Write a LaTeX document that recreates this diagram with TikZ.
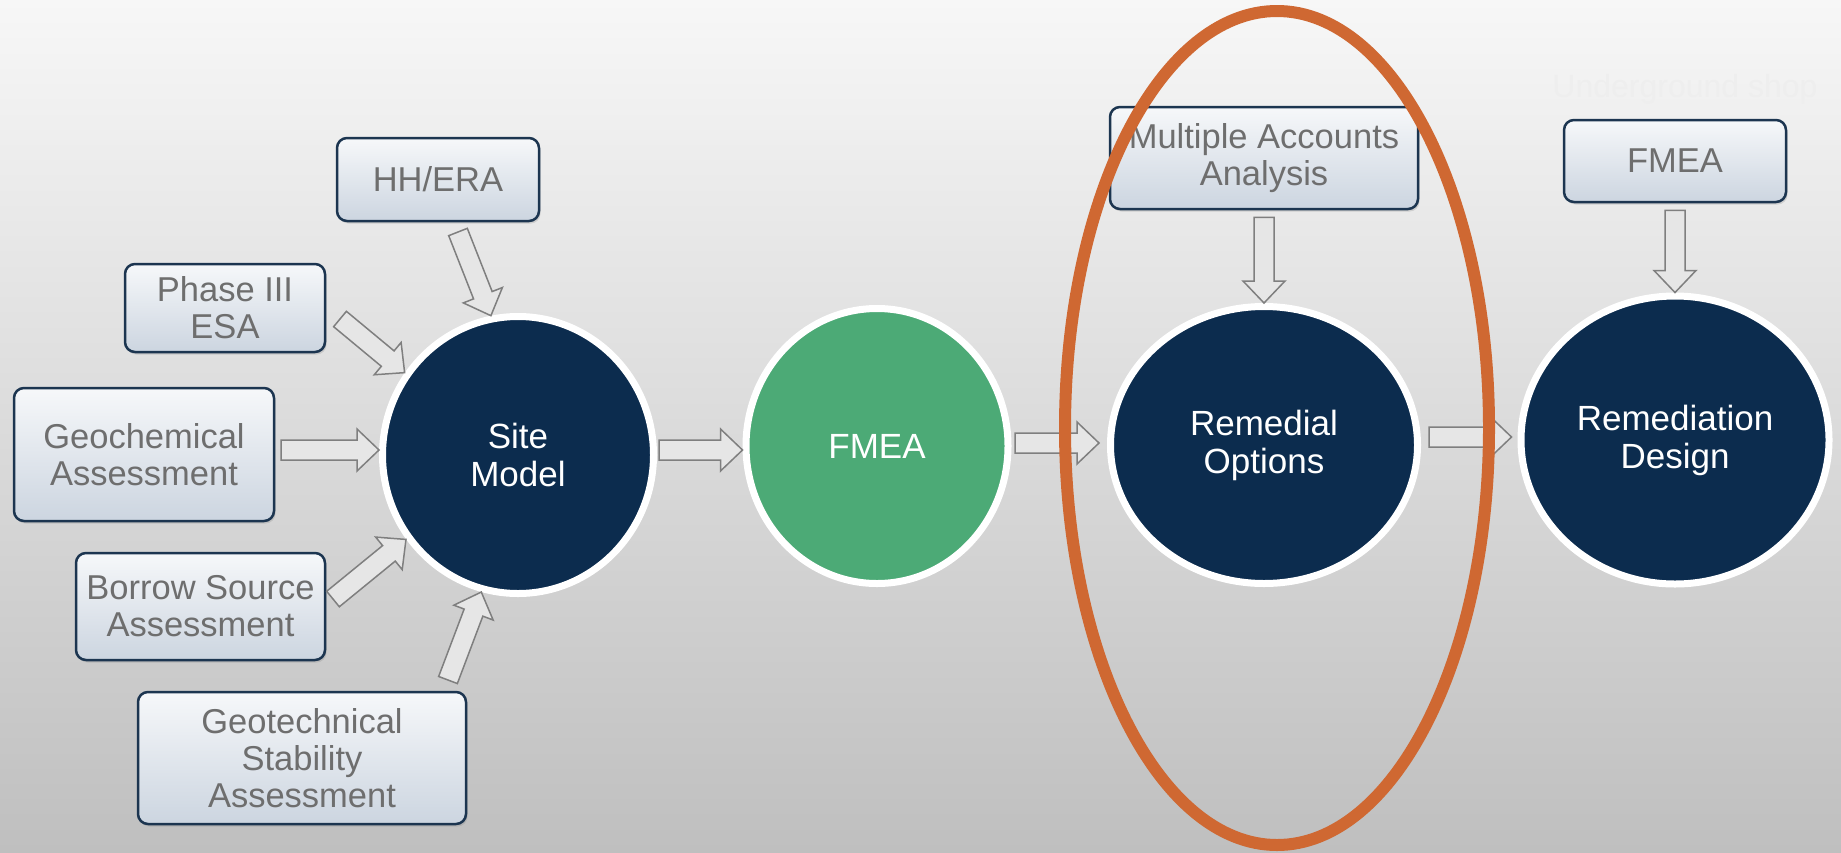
\documentclass[tikz,border=0pt]{standalone}
\usepackage{fontspec}
\setmainfont{Liberation Sans}
\usetikzlibrary{calc,shapes.geometric,shadows}
\definecolor{navy}{HTML}{0C2C4E}
\definecolor{fgreen}{HTML}{4CAA76}
\definecolor{boxline}{HTML}{1C3550}
\definecolor{boxtext}{HTML}{6E6E6E}
\definecolor{ringcol}{HTML}{CF6832}
\definecolor{arrline}{HTML}{7F7F7F}
\definecolor{arrfill}{HTML}{E6E6E6}
\definecolor{bgtop}{HTML}{F7F7F7}
\definecolor{bgbot}{HTML}{BFBFBF}
\definecolor{wmark}{HTML}{EEEEEE}
\definecolor{boxtop}{HTML}{E9EDF2}
\definecolor{boxbot}{HTML}{CCD5E0}
\tikzset{
  inbox/.style={rectangle, rounded corners=10pt, draw=boxline, line width=2.5pt,
    top color=white!60!boxtop, bottom color=boxbot, text=boxtext, align=center,
    font=\fontsize{34.5}{37}\selectfont, inner sep=0pt,
    drop shadow={opacity=0.25, shadow xshift=1.5pt, shadow yshift=-2.5pt}},
  disc/.style={ellipse, draw=white, line width=7pt, text=white, align=center,
    font=\fontsize{35}{38}\selectfont, inner sep=0pt},
  barrow/.style={draw=arrline, fill=arrfill, line width=1.5pt, line join=miter},
  ringstyle/.style={draw=ringcol, line width=12pt},
}
\newcommand\blockarrow[2]{%
  \path let \p1=($(#2)-(#1)$), \n1={atan2(\y1,\x1)}, \n2={veclen(\x1,\y1)} in
    \pgfextra{\pgfmathparse{\n1}\xdef\baang{\pgfmathresult}\pgfmathparse{\n2}\xdef\balen{\pgfmathresult}};
  \begin{scope}[shift={(#1)}, rotate=\baang]
    \draw[barrow] (0,-10) -- ({\balen-22},-10) -- ({\balen-22},-21) -- (\balen,0)
      -- ({\balen-22},21) -- ({\balen-22},10) -- (0,10) -- cycle;
  \end{scope}
}
\begin{document}
\begin{tikzpicture}[x=1pt,y=-1pt]
\useasboundingbox (0,0) rectangle (1841,852);
\fill[top color=bgtop, bottom color=bgbot] (0,0) rectangle (1841,852);

\node[text=wmark, font=\fontsize{32}{38}\selectfont, anchor=base] (wm) at (1685,97) {Underground shop};

% input boxes
\node[inbox, minimum width=202pt, minimum height=83pt] (hh) at (438,179.5) {HH/ERA};
\node[inbox, minimum width=200pt, minimum height=88pt] (ph) at (225,308) {Phase III\\ESA};
\node[inbox, minimum width=260pt, minimum height=133pt] (geo) at (144,454.5) {Geochemical\\Assessment};
\node[inbox, minimum width=249pt, minimum height=107pt] (bor) at (200.5,606.5) {Borrow Source\\Assessment};
\node[inbox, minimum width=328pt, minimum height=132pt] (gtc) at (302,758) {Geotechnical\\Stability\\Assessment};
\node[inbox, minimum width=308pt, minimum height=102pt] (maa) at (1264,158) {Multiple Accounts\\Analysis};
\node[inbox, minimum width=222pt, minimum height=82pt] (fb) at (1675,161) {FMEA};

% main discs
\node[disc, fill=navy, minimum width=271pt, minimum height=277pt] (site) at (518,455) {Site\\Model};
\node[disc, fill=fgreen, minimum width=262pt, minimum height=275pt] (fm) at (877,446) {FMEA};
\node[disc, fill=navy, minimum width=307pt, minimum height=277pt] (rem) at (1264,445) {Remedial\\Options};
\node[disc, fill=navy, minimum width=308pt, minimum height=288pt] (rd) at (1675,440) {Remediation\\Design};

% arrow end points
\coordinate (hhT) at (458,232);
\coordinate (phT) at (340,319);
\coordinate (geT) at (281,450);
\coordinate (geH) at (geT -| site.west);
\coordinate (boT) at (333,599);
\coordinate (gtT) at (448,680);
\coordinate (s2T) at (659,450);
\coordinate (s2H) at (s2T -| fm.west);
\coordinate (f2T) at (1015,443);
\path (f2T -| rem.west) ++(-8,0) coordinate (f2H);
\coordinate (r2T) at (1429,437);
\path (r2T -| rd.west) ++(-6,0) coordinate (r2H);
\path (maa.south) ++(0,7) coordinate (maT);
\path (fb.south) ++(0,7) coordinate (fbT);

\blockarrow{hhT}{site.101}
\blockarrow{phT}{site.144}
\blockarrow{geT}{geH}
\blockarrow{boT}{site.217}
\blockarrow{gtT}{site.255}
\blockarrow{s2T}{s2H}
\blockarrow{f2T}{f2H}
\blockarrow{r2T}{r2H}
\blockarrow{maT}{rem.north}
\blockarrow{fbT}{rd.north}

% highlight ring
\draw[ringstyle] (1277,428) ellipse [x radius=212, y radius=417];
\end{tikzpicture}
\end{document}
